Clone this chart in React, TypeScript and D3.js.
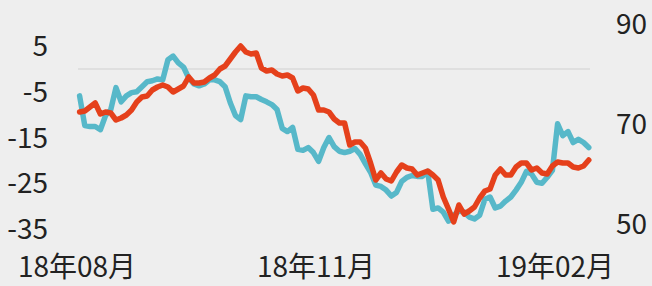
import React, { useEffect, useRef } from "react";
import * as d3 from "d3";

// two series sampled every 2 calendar days, starting 2018-08-02
const startDate = "2018-08-02";
const stepDays = 2;

// left axis series (teal)
const tealValues = [
  -5.9, -12.4, -12.6, -12.6, -13.3, -10.2, -8.9, -4.1, -7.2, -5.9,
  -5.2, -5.0, -3.9, -2.8, -2.6, -2.2, -2.4, 2.0, 2.8, 1.3,
  0.4, -2.0, -3.3, -3.7, -3.3, -2.4, -2.4, -2.8, -3.9, -7.4,
  -10.2, -11.1, -5.9, -6.1, -6.1, -6.7, -7.2, -7.8, -8.9, -13.0,
  -13.7, -12.8, -17.6, -17.8, -17.2, -18.3, -20.2, -17.2, -15.0, -17.0,
  -18.0, -18.3, -18.0, -17.4, -18.7, -20.7, -22.6, -25.4, -25.7, -26.5,
  -27.8, -27.0, -24.6, -23.7, -23.3, -23.5, -23.5, -22.4, -30.7, -30.4,
  -31.3, -33.3, -32.0, -31.1, -31.3, -32.4, -32.8, -32.0, -28.5, -28.0,
  -30.4, -30.0, -28.9, -28.0, -26.5, -24.8, -22.4, -23.0, -24.8, -25.0,
  -23.7, -22.2, -12.0, -14.6, -13.7, -16.1, -15.4, -16.1, -17.2,
];

// right axis series (red)
const redValues = [
  72.4, 72.6, 73.4, 74.2, 72.0, 72.4, 72.2, 70.8, 71.2, 71.8,
  72.8, 74.4, 75.4, 75.6, 76.8, 77.4, 77.8, 77.4, 76.4, 77.0,
  77.6, 79.4, 78.2, 78.2, 78.4, 79.2, 79.8, 81.0, 81.6, 83.0,
  84.4, 85.6, 84.4, 84.0, 84.2, 81.2, 80.6, 80.8, 80.0, 79.6,
  79.8, 79.2, 76.6, 77.2, 77.0, 75.8, 72.8, 72.8, 72.4, 71.0,
  70.2, 70.2, 65.8, 66.4, 66.4, 65.2, 62.2, 58.8, 60.2, 59.0,
  58.6, 60.4, 61.8, 61.2, 61.0, 59.8, 60.2, 60.6, 59.8, 58.8,
  55.4, 53.0, 50.4, 53.8, 52.0, 52.6, 53.4, 55.2, 56.6, 57.0,
  59.8, 61.0, 59.8, 59.8, 61.4, 62.2, 62.2, 60.8, 61.2, 60.2,
  60.0, 61.6, 62.4, 62.2, 62.2, 61.4, 61.2, 61.6, 62.8,
];

const leftTicks = [5, -5, -15, -25, -35];
const rightTicks = [90, 70, 50];
const xTicks = ["2018-08-01", "2018-11-01", "2019-02-01"];

const W = 652;
const H = 286;

const App = () => {
  const ref = useRef<SVGSVGElement>(null);

  useEffect(() => {
    document.body.style.margin = "0";
    document.body.style.background = "#eeeeee";

    const svg = d3.select(ref.current);
    svg.selectAll("*").remove();

    const font = "'Noto Sans CJK SC', 'Noto Sans', sans-serif";
    const parse = d3.timeParse("%Y-%m-%d");
    const start = parse(startDate) as Date;
    const dates = tealValues.map((_, i) => d3.timeDay.offset(start, i * stepDays));

    const x = d3.scaleTime()
      .domain([parse("2018-08-01") as Date, parse("2019-02-01") as Date])
      .range([77, 555]);
    const yL = d3.scaleLinear().domain([-35, 5]).range([229, 46]);
    const yR = d3.scaleLinear().domain([50, 90]).range([224, 24]);

    svg.append("rect").attr("width", W).attr("height", H).attr("fill", "#eeeeee");

    // zero gridline
    svg.append("line")
      .attr("x1", 78).attr("x2", 590)
      .attr("y1", yL(0)).attr("y2", yL(0))
      .attr("stroke", "#dadada").attr("stroke-width", 1.5);

    svg.append("g").selectAll("text")
      .data(leftTicks)
      .enter().append("text")
      .attr("x", 48)
      .attr("y", d => yL(d))
      .attr("dy", "0.36em")
      .attr("text-anchor", "end")
      .attr("font-family", font)
      .attr("font-size", 28)
      .attr("fill", "#222")
      .text(d => d);

    svg.append("g").selectAll("text")
      .data(rightTicks)
      .enter().append("text")
      .attr("x", 616)
      .attr("y", d => yR(d))
      .attr("dy", "0.36em")
      .attr("text-anchor", "start")
      .attr("font-family", font)
      .attr("font-size", 28)
      .attr("fill", "#222")
      .text(d => d);

    const fmt = d3.timeFormat("%y年%m月");
    svg.append("g").selectAll("text")
      .data(xTicks)
      .enter().append("text")
      .attr("x", d => x(parse(d) as Date))
      .attr("y", 277)
      .attr("text-anchor", "middle")
      .attr("font-family", font)
      .attr("font-size", 28)
      .attr("fill", "#222")
      .text(d => fmt(parse(d) as Date));

    const tealLine = d3.line<number>()
      .x((_, i) => x(dates[i]))
      .y(d => yL(d));
    const redLine = d3.line<number>()
      .x((_, i) => x(dates[i]))
      .y(d => yR(d));

    svg.append("path")
      .datum(tealValues)
      .attr("d", tealLine)
      .attr("fill", "none")
      .attr("stroke", "#57b8c9")
      .attr("stroke-width", 5.5)
      .attr("stroke-linejoin", "round")
      .attr("stroke-linecap", "round");

    svg.append("path")
      .datum(redValues)
      .attr("d", redLine)
      .attr("fill", "none")
      .attr("stroke", "#e5401b")
      .attr("stroke-width", 5.5)
      .attr("stroke-linejoin", "round")
      .attr("stroke-linecap", "round");
  }, []);

  return <svg ref={ref} width={W} height={H} style={{ display: "block" }} />;
};

export default App;
